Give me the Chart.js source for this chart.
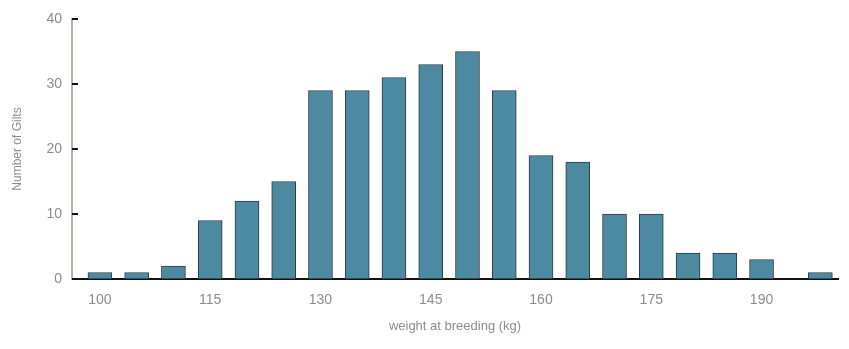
<!DOCTYPE html>
<html>
<head>
<meta charset="utf-8">
<script src="https://cdn.jsdelivr.net/npm/chart.js@4"></script>
<style>
html,body{margin:0;padding:0;background:#fff;}
#wrap{width:849px;height:349px;}
</style>
</head>
<body>
<div id="wrap"><canvas id="c" width="849" height="349"></canvas></div>
<script>
const binWeights = [100,105,110,115,120,125,130,135,140,145,150,155,160,165,170,175,180,185,190,198];
const giltCounts = [1,1,2,9,12,15,29,29,31,33,35,29,19,18,10,10,4,4,3,1];
const xTickLabels = [100,115,130,145,160,175,190];
const yTickLabels = [0,10,20,30,40];

const innerTicks = {
  id:'innerTicks',
  afterDraw(chart){
    const ctx = chart.ctx, y = chart.scales.y, x0 = chart.chartArea.left;
    ctx.save();
    ctx.strokeStyle = '#111';
    ctx.lineWidth = 2;
    yTickLabels.forEach(v=>{
      const py = Math.round(y.getPixelForValue(v));
      ctx.beginPath(); ctx.moveTo(x0, py); ctx.lineTo(x0+6, py); ctx.stroke();
    });
    ctx.restore();
  }
};

new Chart(document.getElementById('c'), {
  type:'bar',
  data:{
    datasets:[{
      data: binWeights.map((w,i)=>({x:w, y:giltCounts[i]})),
      backgroundColor:'#4b8aa0',
      borderColor:'#2b3b40',
      borderWidth:1,
      borderSkipped:false,
      barThickness:24
    }]
  },
  options:{
    responsive:false,
    animation:false,
    layout:{padding:{top:19,right:11,left:6,bottom:0}},
    plugins:{legend:{display:false},tooltip:{enabled:false}},
    scales:{
      x:{
        type:'linear',
        offset:false,
        min:96.2, max:200.4,
        afterBuildTicks(s){ s.ticks = xTickLabels.map(v=>({value:v})); },
        afterFit(s){ s.height = 70; },
        grid:{display:false, drawTicks:false},
        border:{color:'#111', width:2},
        ticks:{color:'#8c8c8c', font:{family:'Liberation Sans', size:14}, padding:13, maxRotation:0, autoSkip:false},
        title:{display:true, text:'weight at breeding (kg)', color:'#8c8c8c', font:{family:'Liberation Sans', size:13}, padding:{top:4,bottom:15}}
      },
      y:{
        min:0, max:40,
        afterBuildTicks(s){ s.ticks = yTickLabels.map(v=>({value:v})); },
        afterFit(s){ s.width = 66; },
        grid:{display:false, drawTicks:false},
        border:{color:'#b5b0ac', width:2, dash:[2,1]},
        ticks:{color:'#8c8c8c', font:{family:'Liberation Sans', size:14}, padding:10},
        title:{display:true, text:'Number of Gilts', color:'#8c8c8c', font:{family:'Liberation Sans', size:12}, padding:{bottom:2}}
      }
    }
  },
  plugins:[innerTicks]
});
</script>
</body>
</html>
